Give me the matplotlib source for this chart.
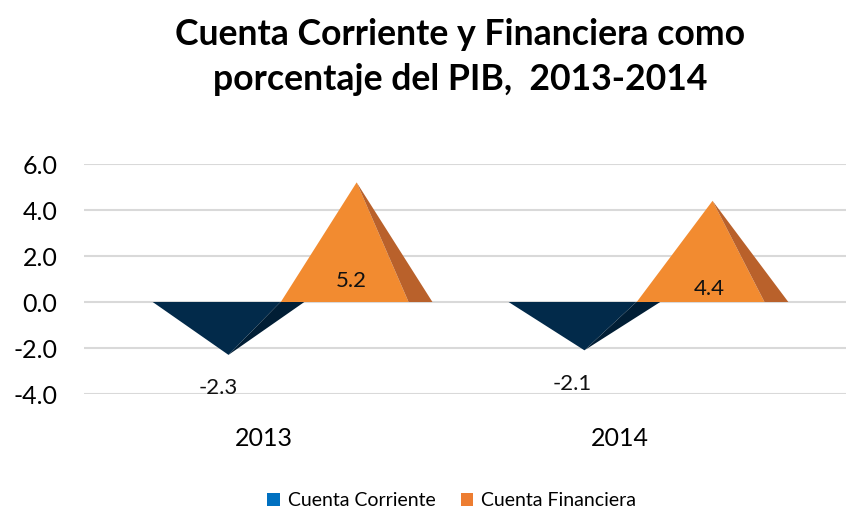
import matplotlib

matplotlib.use("Agg")
import matplotlib.pyplot as plt
from matplotlib.patches import Patch
from matplotlib.ticker import FormatStrFormatter

plt.rcParams["font.family"] = ["Lato", "DejaVu Sans"]
plt.rcParams["axes.unicode_minus"] = False

years = ["2013", "2014"]
series = ["Cuenta Corriente", "Cuenta Financiera"]
corriente = [-2.3, -2.1]
financiera = [5.2, 4.4]
yticks = [-4, -2, 0, 2, 4, 6]

title = "Cuenta Corriente y Financiera como\nporcentaje del PIB,  2013-2014"

# pyramid look (front face + darker side face)
front_colors = ["#022A4A", "#F28B30"]
side_colors = ["#011E35", "#B9612B"]
legend_colors = ["#0070C0", "#ED7D31"]
offsets = [-0.10, 0.26]
half_w = 0.213
side_w = 0.067
# label offsets in pixels
label_dx = [[-10, -12], [-5, -3]]
label_dy = [[-33, -34], [21, 13]]


def draw_pyramid(ax, x, v, front, side):
    ax.fill([x - half_w, x + half_w - side_w, x], [0, 0, v],
            color=front, lw=0, zorder=3)
    ax.fill([x + half_w - side_w, x + half_w, x], [0, 0, v],
            color=side, lw=0, zorder=3)


fig = plt.figure(figsize=(8.46, 5.12), dpi=100)
ax = fig.add_axes([84 / 846, 118 / 512, 762 / 846, 230 / 512])

for s, vals in enumerate([corriente, financiera]):
    for i, v in enumerate(vals):
        x = i + offsets[s]
        draw_pyramid(ax, x, v, front_colors[s], side_colors[s])
        anchor = v if v < 0 else 0
        ax.annotate(f"{v:.1f}", xy=(x, anchor),
                    xytext=(label_dx[s][i], label_dy[s][i]),
                    textcoords="offset pixels", ha="center", va="center",
                    fontsize=16, color="#111111", zorder=5)

ax.set_xlim(-0.506, 1.635)
ax.set_ylim(-4, 6)
ax.set_yticks(yticks)
ax.yaxis.set_major_formatter(FormatStrFormatter("%.1f"))
ax.set_xticks(range(len(years)))
ax.set_xticklabels(years)
ax.tick_params(axis="y", length=0, pad=19, labelsize=18)
ax.tick_params(axis="x", length=0, pad=24, labelsize=18)
ax.grid(axis="y", color="#D9D9D9", lw=1.5, zorder=0)
ax.set_axisbelow(True)
for sp in ax.spines.values():
    sp.set_visible(False)

fig.text(0.544, 0.888, title, ha="center", va="center", fontsize=25.7,
         fontweight="bold", linespacing=1.45)

handles = [Patch(facecolor=c, edgecolor="none") for c in legend_colors]
fig.legend(handles, series, loc="center", bbox_to_anchor=(0.534, 0.022),
           ncol=2, frameon=False, fontsize=14, handlelength=0.65,
           handleheight=0.65, handletextpad=0.4, columnspacing=1.3)

fig.savefig("out.png", dpi=100)
